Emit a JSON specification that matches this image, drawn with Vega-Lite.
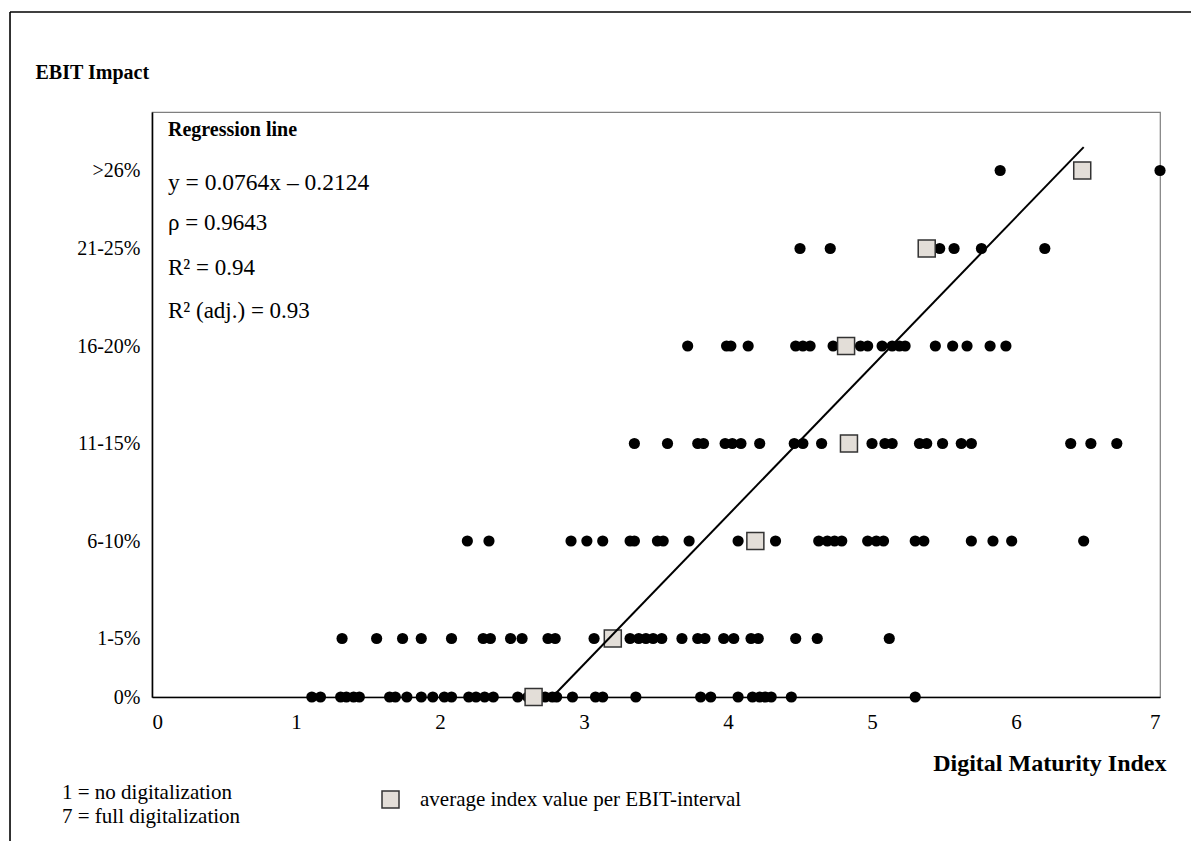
{
  "$schema": "https://vega.github.io/schema/vega-lite/v6.json",
  "width": 1008,
  "height": 585,
  "autosize": {"type": "none"},
  "padding": {"left": 152, "top": 112, "right": 31, "bottom": 144},
  "background": "white",
  "config": {
    "font": "Liberation Serif",
    "view": {"stroke": "#7f7f7f", "strokeWidth": 1.2},
    "axis": {
      "grid": false, "ticks": false, "domainColor": "black", "domainWidth": 1.6,
      "labelFont": "Liberation Serif", "labelColor": "black",
      "titleFont": "Liberation Serif", "titleColor": "black"
    },
    "legend": {"padding": 0},
    "text": {"font": "Liberation Serif", "color": "black", "align": "left", "baseline": "middle"}
  },
  "datasets": {
    "firms": [
      {"index": 1.11, "ebit": 0}, {"index": 1.17, "ebit": 0}, {"index": 1.31, "ebit": 0}, {"index": 1.35, "ebit": 0},
      {"index": 1.40, "ebit": 0}, {"index": 1.44, "ebit": 0}, {"index": 1.65, "ebit": 0}, {"index": 1.69, "ebit": 0},
      {"index": 1.77, "ebit": 0}, {"index": 1.87, "ebit": 0}, {"index": 1.95, "ebit": 0}, {"index": 2.03, "ebit": 0},
      {"index": 2.08, "ebit": 0}, {"index": 2.20, "ebit": 0}, {"index": 2.25, "ebit": 0}, {"index": 2.31, "ebit": 0},
      {"index": 2.37, "ebit": 0}, {"index": 2.54, "ebit": 0}, {"index": 2.61, "ebit": 0}, {"index": 2.73, "ebit": 0},
      {"index": 2.78, "ebit": 0}, {"index": 2.81, "ebit": 0}, {"index": 2.92, "ebit": 0}, {"index": 3.08, "ebit": 0},
      {"index": 3.13, "ebit": 0}, {"index": 3.36, "ebit": 0}, {"index": 3.81, "ebit": 0}, {"index": 3.88, "ebit": 0},
      {"index": 4.07, "ebit": 0}, {"index": 4.17, "ebit": 0}, {"index": 4.22, "ebit": 0}, {"index": 4.26, "ebit": 0},
      {"index": 4.30, "ebit": 0}, {"index": 4.44, "ebit": 0}, {"index": 5.30, "ebit": 0},

      {"index": 1.32, "ebit": 3}, {"index": 1.56, "ebit": 3}, {"index": 1.74, "ebit": 3}, {"index": 1.87, "ebit": 3},
      {"index": 2.08, "ebit": 3}, {"index": 2.30, "ebit": 3}, {"index": 2.35, "ebit": 3}, {"index": 2.49, "ebit": 3},
      {"index": 2.57, "ebit": 3}, {"index": 2.75, "ebit": 3}, {"index": 2.80, "ebit": 3}, {"index": 3.07, "ebit": 3},
      {"index": 3.32, "ebit": 3}, {"index": 3.38, "ebit": 3}, {"index": 3.43, "ebit": 3}, {"index": 3.48, "ebit": 3},
      {"index": 3.54, "ebit": 3}, {"index": 3.68, "ebit": 3}, {"index": 3.79, "ebit": 3}, {"index": 3.84, "ebit": 3},
      {"index": 3.97, "ebit": 3}, {"index": 4.04, "ebit": 3}, {"index": 4.16, "ebit": 3}, {"index": 4.21, "ebit": 3},
      {"index": 4.47, "ebit": 3}, {"index": 4.62, "ebit": 3}, {"index": 5.12, "ebit": 3},

      {"index": 2.19, "ebit": 8}, {"index": 2.34, "ebit": 8}, {"index": 2.91, "ebit": 8}, {"index": 3.02, "ebit": 8},
      {"index": 3.13, "ebit": 8}, {"index": 3.32, "ebit": 8}, {"index": 3.35, "ebit": 8}, {"index": 3.51, "ebit": 8},
      {"index": 3.55, "ebit": 8}, {"index": 3.73, "ebit": 8}, {"index": 4.07, "ebit": 8}, {"index": 4.33, "ebit": 8},
      {"index": 4.63, "ebit": 8}, {"index": 4.69, "ebit": 8}, {"index": 4.74, "ebit": 8}, {"index": 4.79, "ebit": 8},
      {"index": 4.97, "ebit": 8}, {"index": 5.03, "ebit": 8}, {"index": 5.08, "ebit": 8}, {"index": 5.30, "ebit": 8},
      {"index": 5.36, "ebit": 8}, {"index": 5.69, "ebit": 8}, {"index": 5.84, "ebit": 8}, {"index": 5.97, "ebit": 8},
      {"index": 6.47, "ebit": 8},

      {"index": 3.35, "ebit": 13}, {"index": 3.58, "ebit": 13}, {"index": 3.79, "ebit": 13}, {"index": 3.83, "ebit": 13},
      {"index": 3.98, "ebit": 13}, {"index": 4.03, "ebit": 13}, {"index": 4.09, "ebit": 13}, {"index": 4.22, "ebit": 13},
      {"index": 4.46, "ebit": 13}, {"index": 4.52, "ebit": 13}, {"index": 4.65, "ebit": 13}, {"index": 5.00, "ebit": 13},
      {"index": 5.09, "ebit": 13}, {"index": 5.14, "ebit": 13}, {"index": 5.33, "ebit": 13}, {"index": 5.38, "ebit": 13},
      {"index": 5.49, "ebit": 13}, {"index": 5.62, "ebit": 13}, {"index": 5.69, "ebit": 13}, {"index": 6.38, "ebit": 13},
      {"index": 6.52, "ebit": 13}, {"index": 6.70, "ebit": 13},

      {"index": 3.72, "ebit": 18}, {"index": 3.99, "ebit": 18}, {"index": 4.02, "ebit": 18}, {"index": 4.14, "ebit": 18},
      {"index": 4.47, "ebit": 18}, {"index": 4.52, "ebit": 18}, {"index": 4.57, "ebit": 18}, {"index": 4.73, "ebit": 18},
      {"index": 4.92, "ebit": 18}, {"index": 4.97, "ebit": 18}, {"index": 5.07, "ebit": 18}, {"index": 5.14, "ebit": 18},
      {"index": 5.19, "ebit": 18}, {"index": 5.23, "ebit": 18}, {"index": 5.44, "ebit": 18}, {"index": 5.56, "ebit": 18},
      {"index": 5.66, "ebit": 18}, {"index": 5.82, "ebit": 18}, {"index": 5.93, "ebit": 18},

      {"index": 4.50, "ebit": 23}, {"index": 4.71, "ebit": 23}, {"index": 5.47, "ebit": 23}, {"index": 5.57, "ebit": 23},
      {"index": 5.76, "ebit": 23}, {"index": 6.20, "ebit": 23},

      {"index": 5.89, "ebit": 27}, {"index": 7.00, "ebit": 27}
    ],
    "means": [
      {"index": 2.65, "ebit": 0}, {"index": 3.20, "ebit": 3}, {"index": 4.19, "ebit": 8}, {"index": 4.84, "ebit": 13},
      {"index": 4.82, "ebit": 18}, {"index": 5.38, "ebit": 23}, {"index": 6.46, "ebit": 27}
    ],
    "regression": [
      {"index": 2.78, "ebit": 0}, {"index": 6.47, "ebit": 28.2}
    ],
    "one": [{}]
  },
  "layer": [
    {
      "data": {"name": "firms"},
      "mark": {"type": "circle", "size": 125, "color": "black", "opacity": 1},
      "encoding": {
        "x": {
          "field": "index", "type": "quantitative",
          "scale": {"domain": [0, 7], "nice": false, "zero": false},
          "axis": {
            "values": [0, 1, 2, 3, 4, 5, 6, 7], "format": "d", "labelFontSize": 21, "labelPadding": 14,
            "title": "Digital Maturity Index", "titleFontSize": 24, "titleFontWeight": "bold",
            "titleAnchor": "end", "titleAlign": "right", "titleBaseline": "middle",
            "titleX": 1014, "titleY": 66
          }
        },
        "y": {
          "field": "ebit", "type": "quantitative",
          "scale": {"domain": [0, 30], "nice": false},
          "axis": {
            "values": [0, 3, 8, 13, 18, 23, 27],
            "labelExpr": "datum.value == 0 ? '0%' : datum.value == 3 ? '1-5%' : datum.value == 8 ? '6-10%' : datum.value == 13 ? '11-15%' : datum.value == 18 ? '16-20%' : datum.value == 23 ? '21-25%' : '>26%'",
            "labelFontSize": 20, "labelPadding": 12,
            "title": "EBIT Impact", "titleAngle": 0, "titleAlign": "left", "titleBaseline": "middle",
            "titleX": -117, "titleY": -40, "titleFontSize": 20, "titleFontWeight": "bold"
          }
        }
      }
    },
    {
      "data": {"name": "means"},
      "mark": {"type": "square", "size": 289, "stroke": "#333333", "strokeWidth": 1.5, "opacity": 1},
      "encoding": {
        "x": {"field": "index", "type": "quantitative"},
        "y": {"field": "ebit", "type": "quantitative"},
        "fill": {
          "datum": "average index value per EBIT-interval", "type": "nominal",
          "scale": {"range": ["#e3ded8"]},
          "legend": {
            "orient": "none", "legendX": 228, "legendY": 677, "title": null,
            "symbolType": "square", "symbolSize": 289, "symbolStrokeColor": "#333333", "symbolStrokeWidth": 1.5,
            "symbolOpacity": 1, "labelLimit": 0,
            "labelFont": "Liberation Serif", "labelFontSize": 21, "labelColor": "black", "labelOffset": 19
          }
        }
      }
    },
    {
      "data": {"name": "regression"},
      "mark": {"type": "line", "color": "black", "strokeWidth": 2},
      "encoding": {
        "x": {"field": "index", "type": "quantitative"},
        "y": {"field": "ebit", "type": "quantitative"}
      }
    },
    {
      "data": {"name": "one"},
      "mark": {"type": "text", "text": "Regression line", "fontSize": 20, "fontWeight": "bold"},
      "encoding": {"x": {"datum": 0.111, "type": "quantitative"}, "y": {"datum": 29.08, "type": "quantitative"}}
    },
    {
      "data": {"name": "one"},
      "mark": {"type": "text", "text": "y = 0.0764x – 0.2124", "fontSize": 23.5},
      "encoding": {"x": {"datum": 0.111, "type": "quantitative"}, "y": {"datum": 26.36, "type": "quantitative"}}
    },
    {
      "data": {"name": "one"},
      "mark": {"type": "text", "text": "ρ = 0.9643", "fontSize": 23},
      "encoding": {"x": {"datum": 0.111, "type": "quantitative"}, "y": {"datum": 24.31, "type": "quantitative"}}
    },
    {
      "data": {"name": "one"},
      "mark": {"type": "text", "text": "R² = 0.94", "fontSize": 23},
      "encoding": {"x": {"datum": 0.111, "type": "quantitative"}, "y": {"datum": 22.0, "type": "quantitative"}}
    },
    {
      "data": {"name": "one"},
      "mark": {"type": "text", "text": "R² (adj.) = 0.93", "fontSize": 23},
      "encoding": {"x": {"datum": 0.111, "type": "quantitative"}, "y": {"datum": 19.79, "type": "quantitative"}}
    },
    {
      "data": {"name": "one"},
      "mark": {"type": "text", "text": "1 = no digitalization", "fontSize": 21},
      "encoding": {"x": {"datum": -0.625, "type": "quantitative"}, "y": {"datum": -4.92, "type": "quantitative"}}
    },
    {
      "data": {"name": "one"},
      "mark": {"type": "text", "text": "7 = full digitalization", "fontSize": 21},
      "encoding": {"x": {"datum": -0.625, "type": "quantitative"}, "y": {"datum": -6.15, "type": "quantitative"}}
    },
    {
      "data": {"name": "one"},
      "mark": {"type": "rule", "color": "black", "strokeWidth": 1.6, "clip": false},
      "encoding": {"x": {"datum": -0.986, "type": "quantitative"}, "x2": {"datum": 7.3}, "y": {"datum": 35.13, "type": "quantitative"}}
    },
    {
      "data": {"name": "one"},
      "mark": {"type": "rule", "color": "black", "strokeWidth": 1.6, "clip": false},
      "encoding": {"x": {"datum": -0.986, "type": "quantitative"}, "y": {"datum": 35.13, "type": "quantitative"}, "y2": {"datum": -7.6}}
    }
  ]
}
